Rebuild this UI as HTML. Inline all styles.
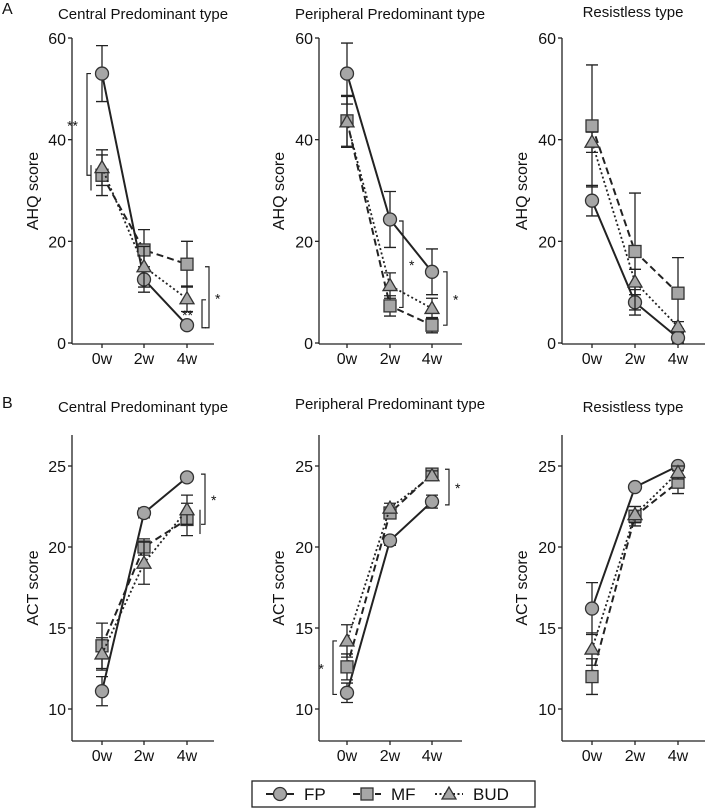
<!DOCTYPE html>
<html><head><meta charset="utf-8"><style>
body{margin:0;background:#fff;}
svg{display:block;font-family:"Liberation Sans",Arial,sans-serif;}
</style></head><body>
<svg id="chart" width="709" height="809" viewBox="0 0 709 809"></svg>
<script>
const NS="http://www.w3.org/2000/svg";
const svg=document.getElementById('chart');
// ---- data ----
const timepoints=["0w","2w","4w"];
const seriesNames=["FP","MF","BUD"];
const ahqTicks=[0,20,40,60];
const actTicks=[10,15,20,25];
// AHQ means / errors
const ahqCentralFP=[53,12.5,3.5], ahqCentralFPErr=[5.5,2.5,0.7];
const ahqCentralMF=[33,18.3,15.5], ahqCentralMFErr=[4,4,4.5];
const ahqCentralBUD=[34.5,15,8.7], ahqCentralBUDErr=[3.5,4,2.5];
const ahqPeriphFP=[53,24.3,14], ahqPeriphFPErr=[6,5.5,4.5];
const ahqPeriphMF=[43.7,7.3,3.5], ahqPeriphMFErr=[5,2,1.5];
const ahqPeriphBUD=[43.5,11.3,6.8], ahqPeriphBUDErr=[5,2.5,2];
const ahqResistFP=[28,8,1], ahqResistFPErr=[3,2.5,1];
const ahqResistMF=[42.7,18,9.8], ahqResistMFErr=[12,11.5,7];
const ahqResistBUD=[39.5,12,3.2], ahqResistBUDErr=[2,2.5,1];
// ACT means / errors
const actCentralFP=[11.1,22.1,24.3], actCentralFPErr=[0.9,0.3,0.1];
const actCentralMF=[13.9,20,21.7], actCentralMFErr=[1.4,0.5,1];
const actCentralBUD=[13.4,19,22.3], actCentralBUDErr=[1,1.3,0.9];
const actPeriphFP=[11,20.4,22.8], actPeriphFPErr=[0.6,0.3,0.4];
const actPeriphMF=[12.6,22.1,24.5], actPeriphMFErr=[0.8,0.3,0.2];
const actPeriphBUD=[14.2,22.4,24.4], actPeriphBUDErr=[1,0.3,0.3];
const actResistFP=[16.2,23.7,25], actResistFPErr=[1.6,0.1,0.1];
const actResistMF=[12,21.9,24], actResistMFErr=[1.1,0.6,0.7];
const actResistBUD=[13.7,22,24.6], actResistBUDErr=[1,0.5,0.4];

function el(tag,attrs,parent){const e=document.createElementNS(NS,tag);for(const k in attrs)e.setAttribute(k,attrs[k]);(parent||svg).appendChild(e);return e;}
function txt(x,y,s,opts,parent){const t=el('text',Object.assign({x:x,y:y,'font-size':14,fill:'#111'},opts||{}),parent);t.textContent=s;return t;}

const dash={FP:'none',MF:'7,4',BUD:'2,2.5'};
function marker(g,name,x,y){
  let m;
  if(name==='FP') m=el('circle',{cx:x,cy:y,r:6.5,fill:'#a6a6a6',stroke:'#333','stroke-width':1.3},g);
  else if(name==='MF') m=el('rect',{x:x-6,y:y-6,width:12,height:12,fill:'#a6a6a6',stroke:'#333','stroke-width':1.3},g);
  else m=el('polygon',{points:`${x},${y-7} ${x-7},${y+5} ${x+7},${y+5}`,fill:'#a6a6a6',stroke:'#333','stroke-width':1.3},g);
  return m;
}

function panel(cfg){
  const g=el('g',{});
  
  
  const ys=v=>cfg.y0px+(v-cfg.ymin)/(cfg.ymax-cfg.ymin)*(cfg.y1px-cfg.y0px);
  const xs=i=>cfg.xs[i];
  const ya=el('line',{x1:cfg.ax,y1:cfg.top,x2:cfg.ax,y2:cfg.bottom,stroke:'#222','stroke-width':1.3},g);
  
  const xa=el('line',{x1:cfg.ax,y1:cfg.bottom,x2:cfg.axEnd,y2:cfg.bottom,stroke:'#222','stroke-width':1.3},g);
  
  cfg.ticks.forEach(t=>{
    el('line',{x1:cfg.ax-4,y1:ys(t),x2:cfg.ax,y2:ys(t),stroke:'#222','stroke-width':1.3},g);
    const tl=txt(cfg.ax-6,ys(t)+6,String(t),{'text-anchor':'end','font-size':16},g);
    
  });
  timepoints.forEach((tp,i)=>{
    el('line',{x1:xs(i),y1:cfg.bottom,x2:xs(i),y2:cfg.bottom+4,stroke:'#222','stroke-width':1.3},g);
    const tl=txt(xs(i),cfg.bottom+20,tp,{'text-anchor':'middle','font-size':16},g);
    
  });
  const ttl=txt(cfg.titleX,cfg.titleY,cfg.title,{'text-anchor':'middle','font-size':15},g);
  
  const yl=txt(0,0,cfg.ylabel,{'text-anchor':'middle','font-size':16,transform:`translate(${cfg.ylx},${(cfg.top+cfg.bottom)/2}) rotate(-90)`},g);
  
  seriesNames.forEach((nm,si)=>{
    const vals=cfg.series[si][0], errs=cfg.series[si][1];
    const sg=el('g',{},g);
    
    
    const pts=vals.map((v,i)=>xs(i)+','+ys(v)).join(' ');
    const pl=el('polyline',{points:pts,fill:'none',stroke:'#222','stroke-width':nm==='BUD'?1.8:2,'stroke-dasharray':dash[nm]},sg);
    
    vals.forEach((v,i)=>{
      const x=xs(i),lo=ys(v-errs[i]),hi=ys(v+errs[i]);
      const eb=el('path',{d:`M${x},${lo}V${hi}M${x-6},${lo}H${x+6}M${x-6},${hi}H${x+6}`,stroke:'#222','stroke-width':1.3,fill:'none'},sg);
      
    });
    vals.forEach((v,i)=>{
      const m=marker(sg,nm,xs(i),ys(v));
      
      
    });
  });
  (cfg.brackets||[]).forEach(b=>{
    const [x,v1,v2,lab,dir]=b;
    const y1=ys(v1),y2=ys(v2);
    const d=dir===0?`M${x},${y1}V${y2}`:`M${x-4*dir},${y1}H${x}V${y2}H${x-4*dir}`;
    const br=el('path',{d:d,stroke:'#222','stroke-width':1.2,fill:'none'},g);
    
    if(lab){const lx=dir<0?x-9:x+6;const st=txt(lx,(y1+y2)/2+6,lab,{'font-size':14,'text-anchor':dir<0?'end':'start'},g);
      }
  });
}
const colA={top:38,bottom:344,y0px:343,y1px:38,ymin:0,ymax:60,ticks:ahqTicks,ylabel:'AHQ score',titleY:19};
const colB={top:435,bottom:741,y0px:709,y1px:466,ymin:10,ymax:25,ticks:actTicks,ylabel:'ACT score',titleY:412};
const cols=[
 {ax:72,axEnd:214,xs:[102,144,187],titleX:143,ylx:38},
 {ax:319,axEnd:462,xs:[347,390,432],titleX:390,ylx:284},
 {ax:562,axEnd:705,xs:[592,635,678],titleX:633,ylx:527}
];
panel(Object.assign({},colA,cols[0],{name:'ahq-central-panel',title:'Central Predominant type',
 series:[[ahqCentralFP,ahqCentralFPErr],[ahqCentralMF,ahqCentralMFErr],[ahqCentralBUD,ahqCentralBUDErr]],
 brackets:[[87,53,33,'**',-1],[91,35,30,'',0],[209,15,3,'*',1],[202,8.5,3,'**',-1]]}));
panel(Object.assign({},colA,cols[1],{name:'ahq-peripheral-panel',title:'Peripheral Predominant type',
 series:[[ahqPeriphFP,ahqPeriphFPErr],[ahqPeriphMF,ahqPeriphMFErr],[ahqPeriphBUD,ahqPeriphBUDErr]],
 brackets:[[403,24,7,'*',1],[447,14,3.5,'*',1]]}));
panel(Object.assign({},colA,cols[2],{name:'ahq-resistless-panel',title:'Resistless type',titleY:17,
 series:[[ahqResistFP,ahqResistFPErr],[ahqResistMF,ahqResistMFErr],[ahqResistBUD,ahqResistBUDErr]]}));
panel(Object.assign({},colB,cols[0],{name:'act-central-panel',title:'Central Predominant type',
 series:[[actCentralFP,actCentralFPErr],[actCentralMF,actCentralMFErr],[actCentralBUD,actCentralBUDErr]],
 brackets:[[205,24.5,21.4,'*',1],[200,22.3,20.8,'',0]]}));
panel(Object.assign({},colB,cols[1],{name:'act-peripheral-panel',title:'Peripheral Predominant type',titleY:409,
 series:[[actPeriphFP,actPeriphFPErr],[actPeriphMF,actPeriphMFErr],[actPeriphBUD,actPeriphBUDErr]],
 brackets:[[333,14.2,10.9,'*',-1],[449,24.8,22.6,'*',1]]}));
panel(Object.assign({},colB,cols[2],{name:'act-resistless-panel',title:'Resistless type',
 series:[[actResistFP,actResistFPErr],[actResistMF,actResistMFErr],[actResistBUD,actResistBUDErr]]}));

const la=txt(2,14,'A',{'font-size':16});
const lb=txt(2,408,'B',{'font-size':16});

const lg=el('g',{});


el('rect',{x:252,y:781,width:283,height:26,fill:'#fff',stroke:'#222','stroke-width':1.3},lg);
const legX=[266,353,435];
seriesNames.forEach((nm,i)=>{
  const eg=el('g',{},lg);
  
  
  el('line',{x1:legX[i],y1:794,x2:legX[i]+28,y2:794,stroke:'#222','stroke-width':2,'stroke-dasharray':dash[nm]},eg);
  marker(eg,nm,legX[i]+14,794);
  txt(legX[i]+38,800,nm,{'font-size':17},eg);
});
</script>
</body></html>
